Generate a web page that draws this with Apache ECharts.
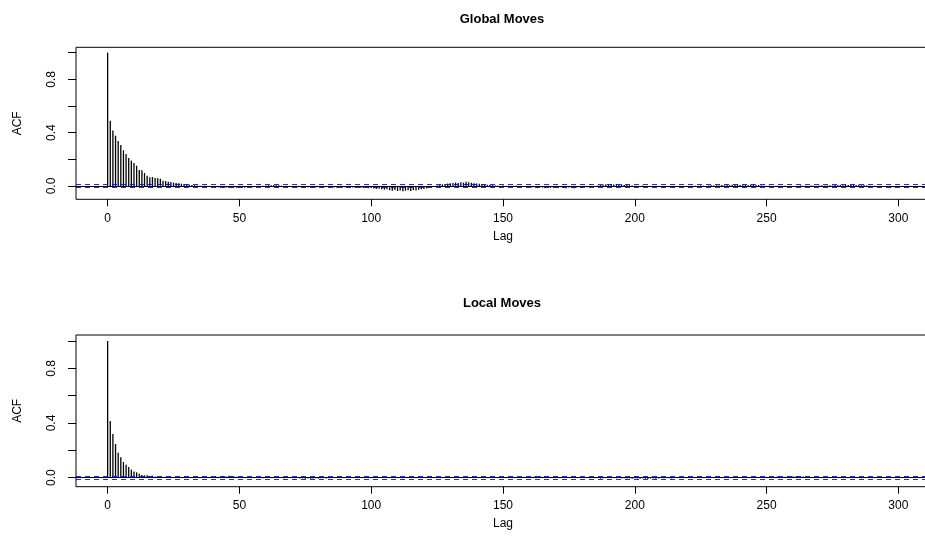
<!DOCTYPE html>
<html>
<head>
<meta charset="utf-8">
<script src="https://cdn.jsdelivr.net/npm/echarts@6/dist/echarts.min.js"></script>
<style>html,body{margin:0;padding:0;background:#fff}#c{width:925px;height:548px}</style>
</head>
<body>
<div id="c"></div>
<script>
const titles = ['Global Moves', 'Local Moves'];
const xTicks = [0, 50, 100, 150, 200, 250, 300];
const yTicks = [0, 0.2, 0.4, 0.6, 0.8, 1.0];
const yLabels = [0, 0.4, 0.8];
const confGlobal = 0.0147;
const confLocal = 0.0055;

const acfGlobal = [
 1.000, 0.490, 0.416, 0.377, 0.337, 0.307, 0.267, 0.240, 0.210, 0.190,
 0.172, 0.152, 0.120, 0.117, 0.097, 0.077, 0.065, 0.067, 0.060, 0.057,
 0.055, 0.040, 0.037, 0.032, 0.030, 0.025, 0.022, 0.020, 0.017, 0.015,
 0.012, 0.010, 0.008, 0.006, 0.004, 0.002, -0.002, 0.001, -0.004, -0.006,
 -0.008, -0.010, -0.012, -0.009, -0.014, -0.011, -0.016, -0.013, -0.010, -0.015,
 -0.012, -0.009, -0.013, -0.008, -0.006, -0.010, -0.005, -0.003, -0.006, 0.002,
 0.004, 0.006, 0.005, 0.008, 0.006, 0.004, 0.003, -0.002, -0.004, -0.006,
 -0.008, -0.005, -0.010, -0.007, -0.011, -0.008, -0.012, -0.006, -0.009, -0.011,
 -0.007, -0.010, -0.013, -0.008, -0.011, -0.009, -0.012, -0.014, -0.010, -0.013,
 -0.009, -0.012, -0.015, -0.011, -0.014, -0.010, -0.013, -0.016, -0.012, -0.017,
 -0.015, -0.019, -0.022, -0.020, -0.025, -0.028, -0.024, -0.032, -0.035, -0.030,
 -0.038, -0.034, -0.040, -0.036, -0.033, -0.037, -0.031, -0.034, -0.028, -0.025,
 -0.022, -0.018, -0.014, -0.009, -0.004, 0.003, 0.008, 0.012, 0.015, 0.018,
 0.020, 0.023, 0.026, 0.022, 0.028, 0.025, 0.031, 0.027, 0.024, 0.021,
 0.019, 0.017, 0.014, 0.012, 0.010, 0.008, 0.006, 0.004, 0.002, -0.002,
 0.003, -0.004, 0.002, -0.005, -0.003, 0.004, -0.006, -0.004, -0.008, -0.005,
 -0.009, -0.012, -0.008, -0.014, -0.010, -0.013, -0.016, -0.011, -0.014, -0.009,
 -0.012, -0.015, -0.010, -0.013, -0.017, -0.011, -0.014, -0.018, -0.012, -0.009,
 -0.013, -0.008, -0.010, -0.006, -0.004, -0.002, 0.003, 0.006, 0.009, 0.012,
 0.010, 0.014, 0.011, 0.013, 0.009, 0.012, 0.008, 0.010, 0.006, 0.004,
 0.002, -0.003, -0.005, 0.003, -0.004, -0.006, -0.003, -0.008, -0.005, -0.007,
 -0.004, -0.009, -0.006, -0.010, -0.007, -0.011, -0.008, -0.006, -0.009, -0.005,
 -0.007, -0.004, -0.002, 0.002, -0.003, 0.004, 0.002, -0.002, 0.003, 0.005,
 0.004, 0.006, 0.003, 0.007, 0.005, 0.008, 0.006, 0.009, 0.007, 0.010,
 0.008, 0.006, 0.009, 0.007, 0.011, 0.008, 0.005, 0.007, 0.004, 0.002,
 -0.002, 0.003, -0.004, -0.002, 0.002, -0.005, -0.003, 0.002, -0.004, -0.006,
 -0.003, -0.005, -0.002, 0.003, -0.004, 0.002, -0.003, 0.004, 0.002, -0.002,
 0.003, 0.005, 0.002, 0.004, 0.006, 0.003, 0.007, 0.005, 0.008, 0.006,
 0.009, 0.007, 0.010, 0.008, 0.006, 0.009, 0.005, 0.007, 0.004, 0.002,
 -0.003, 0.002, -0.005, -0.003, -0.008, -0.006, -0.011, -0.015, -0.009, -0.012,
 -0.006
];

const acfLocal = [
 1.000, 0.415, 0.320, 0.246, 0.183, 0.149, 0.115, 0.095, 0.078, 0.059,
 0.046, 0.039, 0.029, 0.020, 0.017, 0.017, 0.012, 0.015, 0.008, 0.006,
 0.009, 0.005, 0.007, 0.003, 0.006, 0.004, 0.002, 0.005, 0.003, -0.002,
 0.003, -0.003, 0.002, 0.004, -0.002, 0.003, 0.005, 0.002, 0.004, 0.006,
 0.005, 0.008, 0.006, 0.010, 0.013, 0.009, 0.014, 0.011, 0.008, 0.006,
 0.004, 0.002, -0.003, 0.003, -0.002, 0.004, 0.002, -0.003, 0.002, -0.004,
 -0.002, 0.003, -0.003, 0.002, 0.004, -0.002, 0.003, -0.004, -0.002, 0.002,
 -0.003, -0.005, -0.002, -0.006, -0.004, -0.007, -0.005, -0.008, -0.006, -0.004,
 -0.007, -0.005, -0.003, -0.006, -0.004, 0.002, -0.003, 0.003, -0.002, 0.002,
 0.003, -0.002, 0.002, 0.004, -0.003, 0.002, -0.002, 0.003, 0.002, -0.003,
 0.002, -0.002, 0.003, -0.003, 0.002, 0.004, -0.002, 0.002, -0.003, 0.003,
 -0.002, 0.002, -0.004, 0.002, -0.002, 0.003, 0.002, -0.003, 0.002, 0.004,
 0.002, -0.002, 0.003, -0.002, 0.002, 0.003, -0.003, 0.002, 0.004, 0.002,
 -0.002, 0.003, 0.002, -0.002, 0.004, 0.002, 0.003, 0.005, 0.002, 0.004,
 0.003, -0.002, 0.004, 0.002, 0.005, 0.003, 0.002, -0.002, 0.003, 0.002,
 0.004, 0.002, 0.005, 0.003, 0.006, 0.004, 0.003, 0.005, 0.007, 0.004,
 0.006, 0.003, 0.008, 0.005, 0.012, 0.006, 0.004, 0.007, 0.003, 0.005,
 0.002, 0.004, -0.002, 0.003, 0.002, -0.003, 0.002, -0.002, 0.003, -0.003,
 -0.002, 0.002, -0.003, -0.004, -0.002, -0.005, -0.003, -0.006, -0.004, -0.002,
 -0.003, 0.002, -0.002, -0.004, -0.003, -0.005, -0.004, -0.006, -0.005, -0.007,
 -0.004, -0.006, -0.008, -0.005, -0.007, -0.009, -0.006, -0.004, -0.007, -0.005,
 -0.003, -0.005, -0.002, -0.004, -0.006, -0.003, -0.002, 0.002, -0.003, 0.002,
 0.003, -0.002, 0.002, 0.004, 0.002, -0.002, 0.003, 0.002, -0.003, 0.002,
 0.002, -0.002, 0.003, 0.002, -0.002, 0.003, 0.004, 0.002, 0.003, 0.005,
 0.003, 0.004, 0.002, 0.005, 0.003, 0.004, 0.006, 0.003, 0.005, 0.004,
 0.006, 0.004, 0.007, 0.005, 0.008, 0.006, 0.009, 0.007, 0.010, 0.008,
 0.011, 0.008, 0.010, 0.007, 0.009, 0.006, 0.008, 0.005, 0.004, 0.002,
 0.003, -0.002, 0.002, -0.003, 0.002, 0.003, -0.002, 0.002, -0.003, -0.002,
 0.002, -0.003, -0.002, 0.003, -0.002, 0.002, -0.004, -0.002, 0.002, -0.003,
 0.002, 0.003, -0.002, 0.002, -0.003, 0.002, 0.003, -0.002, 0.002, -0.003,
 0.002
];

const FONT = 'Liberation Sans, Arial, Helvetica, sans-serif';
const chart = echarts.init(document.getElementById('c'), null, {renderer: 'canvas'});

const grids = [
  {left: 76, top: 47.3, width: 854, height: 152, outerBoundsMode: 'none', containLabel: false, show: true, borderColor: '#000', borderWidth: 1, backgroundColor: 'transparent'},
  {left: 76, top: 335, width: 854, height: 151.7, outerBoundsMode: 'none', containLabel: false, show: true, borderColor: '#000', borderWidth: 1, backgroundColor: 'transparent'}
];
const yRanges = [[-0.1, 1.04], [-0.066, 1.044]];
const series = [acfGlobal, acfLocal];
const confs = [confGlobal, confLocal];

const xAxes = grids.map((g, i) => ({
  type: 'value', gridIndex: i, min: -12, max: 312, position: 'bottom',
  name: 'Lag', nameLocation: 'middle', nameGap: 31,
  nameTextStyle: {fontFamily: FONT, fontSize: 12, color: '#000'},
  axisLine: {show: false, onZero: false},
  axisTick: {show: true, inside: false, length: 7, customValues: xTicks, lineStyle: {color: '#000'}},
  axisLabel: {show: true, margin: 13, customValues: xTicks, fontFamily: FONT, fontSize: 12, color: '#000'},
  splitLine: {show: false}
}));
const yAxes = grids.map((g, i) => ({
  type: 'value', gridIndex: i, min: yRanges[i][0], max: yRanges[i][1], position: 'left',
  name: 'ACF', nameLocation: 'middle', nameGap: 52, nameRotate: 90,
  nameTextStyle: {fontFamily: FONT, fontSize: 12, color: '#000'},
  axisLine: {show: false, onZero: false},
  axisTick: {show: true, inside: false, length: 8, customValues: yTicks, lineStyle: {color: '#000'}},
  axisLabel: {show: true, margin: 18, rotate: 90, customValues: yLabels,
    formatter: v => Number(v).toFixed(1), fontFamily: FONT, fontSize: 12, color: '#000'},
  splitLine: {show: false}
}));

const seriesOpts = [];
series.forEach((arr, i) => {
  seriesOpts.push({
    type: 'bar', xAxisIndex: i, yAxisIndex: i, z: 2,
    data: arr.map((v, lag) => [lag, v]),
    barWidth: 1.3,
    itemStyle: {color: '#000'},
    silent: true,
    markLine: {
      silent: true, symbol: 'none', label: {show: false}, animation: false,
      data: [{yAxis: 0, lineStyle: {color: '#000', width: 1, type: 'solid'}}]
    }
  });
  seriesOpts.push({
    type: 'line', xAxisIndex: i, yAxisIndex: i, z: 5, data: [],
    markLine: {
      silent: true, symbol: 'none', label: {show: false}, animation: false, z: 6,
      data: [
        {yAxis: confs[i], lineStyle: {color: '#0000ff', width: 1, type: [5, 4], opacity: 0.85}},
        {yAxis: -confs[i], lineStyle: {color: '#0000ff', width: 1, type: [5, 4], opacity: 0.85}}
      ]
    }
  });
});

chart.setOption({
  animation: false,
  backgroundColor: '#fff',
  grid: grids,
  xAxis: xAxes,
  yAxis: yAxes,
  series: seriesOpts,
  graphic: [
    {type: 'text', x: 502, y: 19, style: {text: titles[0], textAlign: 'center', textVerticalAlign: 'middle', font: 'bold 13px ' + FONT, fill: '#000'}},
    {type: 'text', x: 502, y: 303, style: {text: titles[1], textAlign: 'center', textVerticalAlign: 'middle', font: 'bold 13px ' + FONT, fill: '#000'}}
  ]
});
</script>
</body>
</html>
